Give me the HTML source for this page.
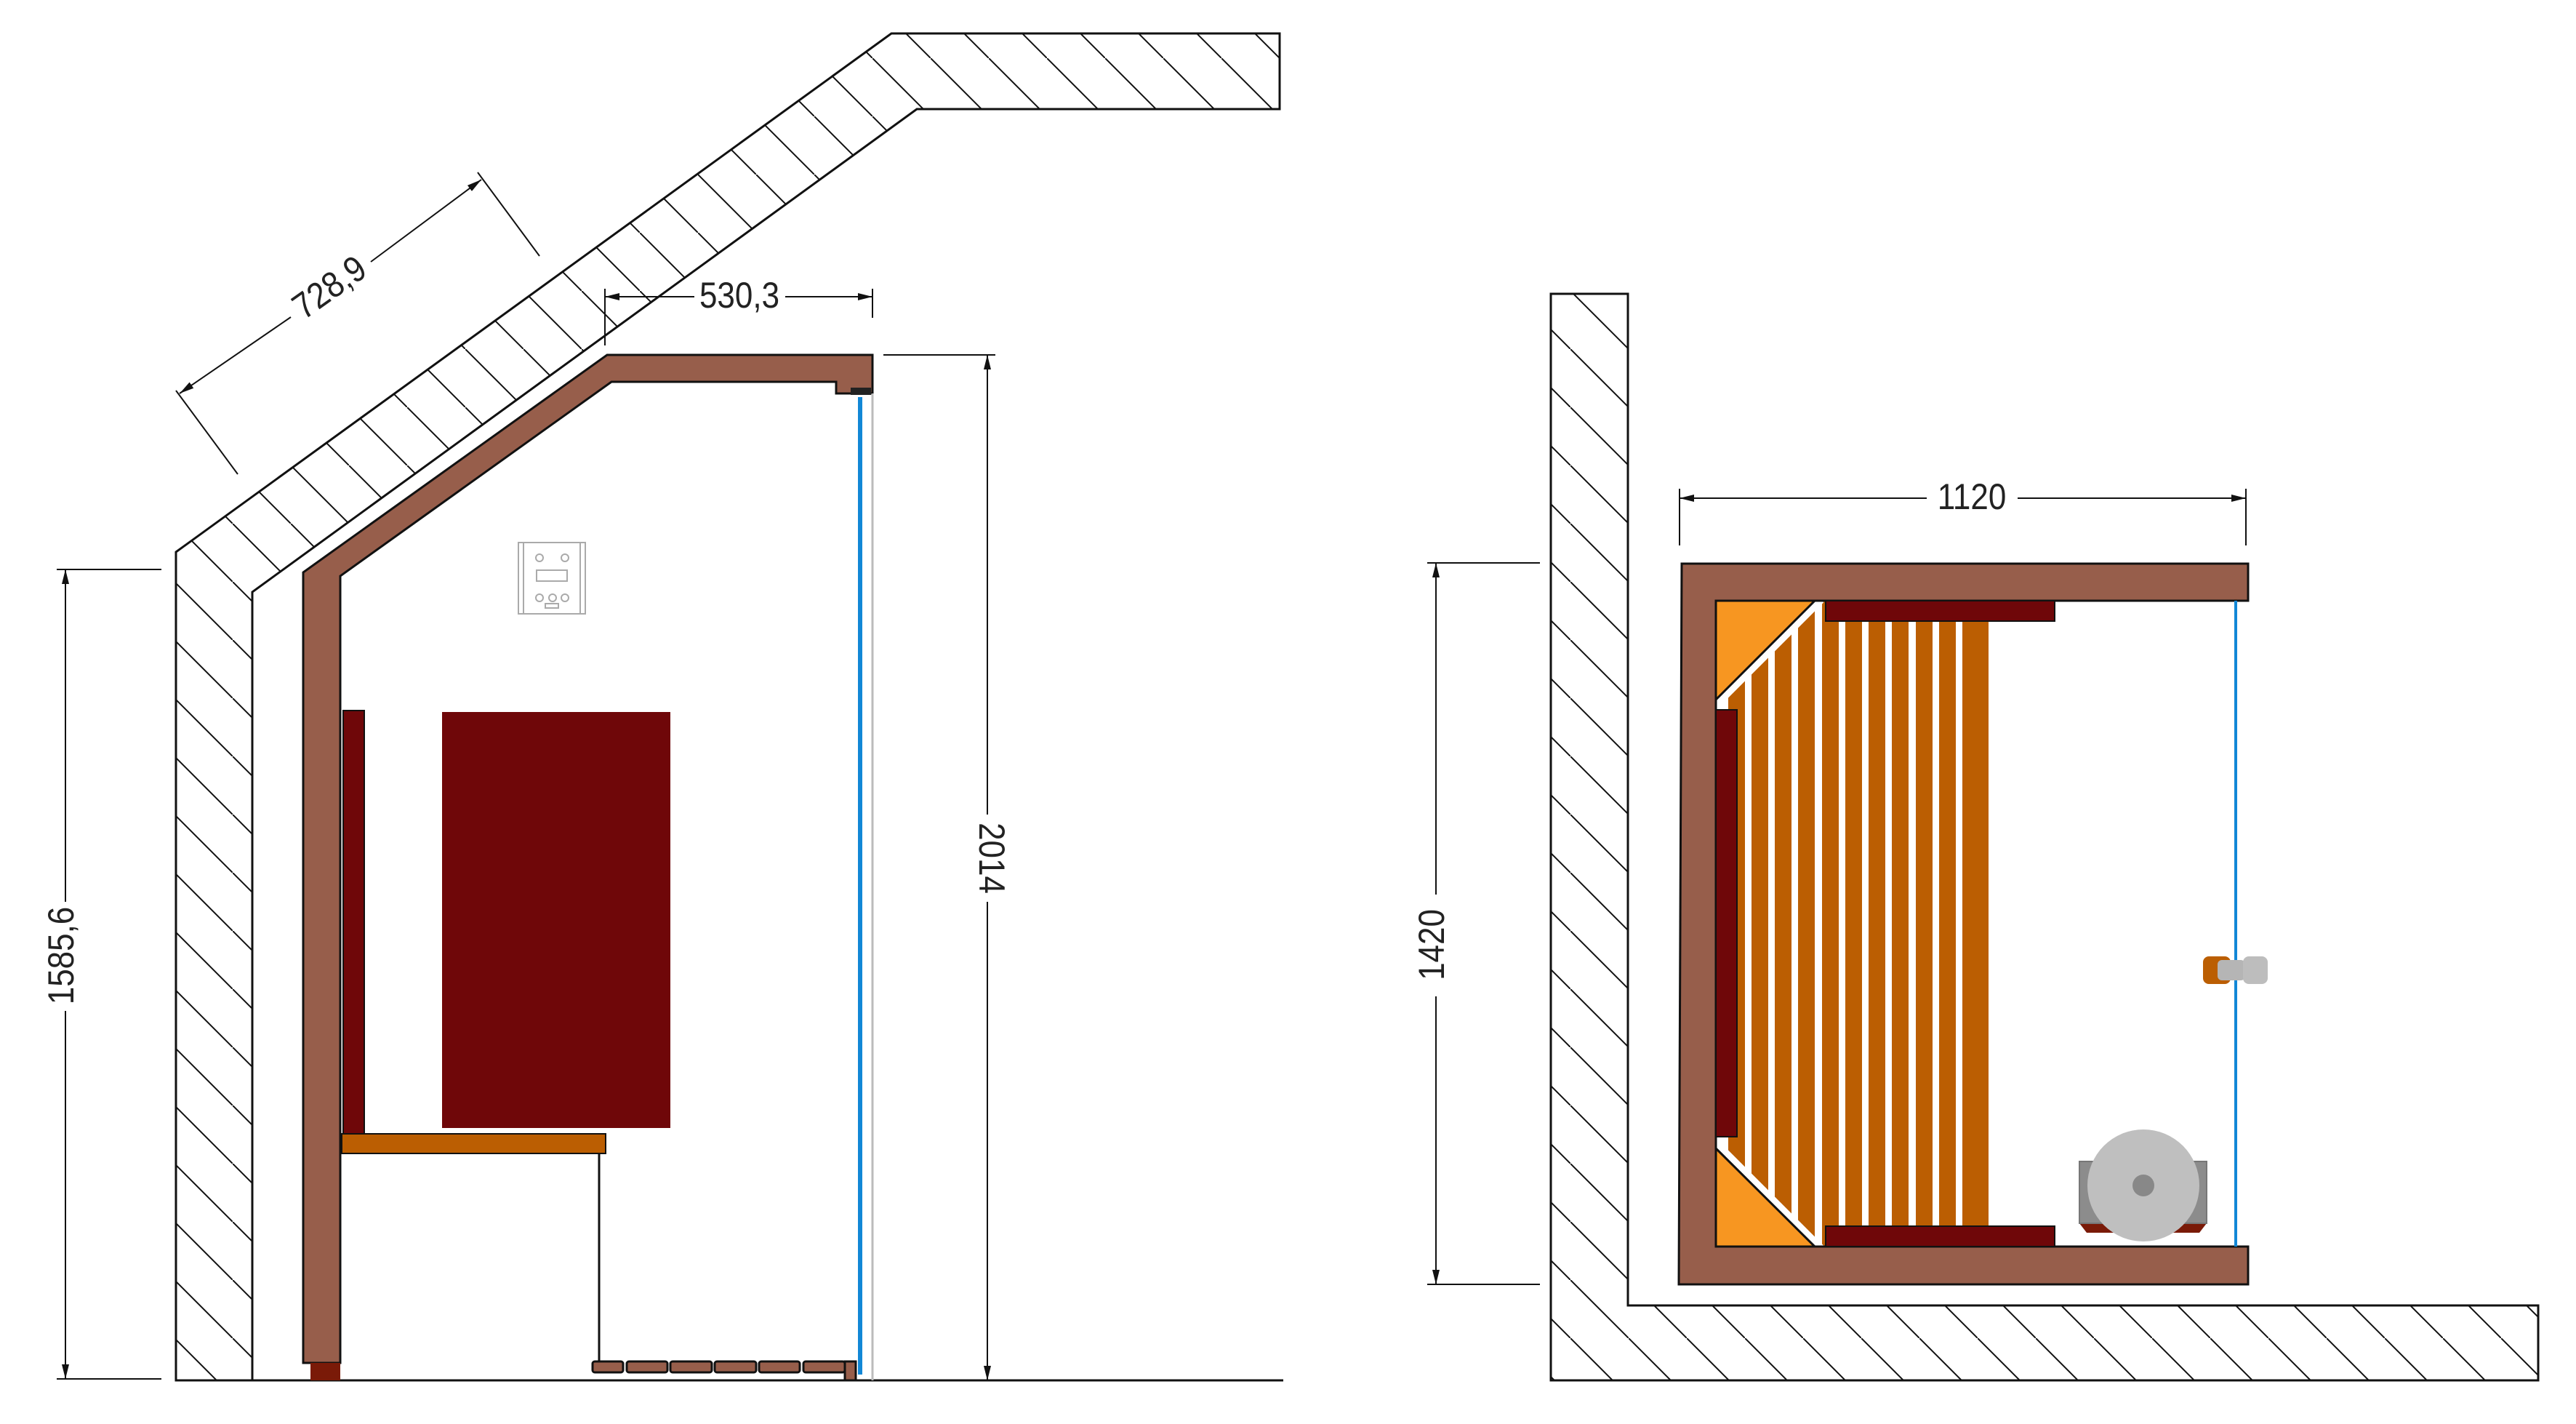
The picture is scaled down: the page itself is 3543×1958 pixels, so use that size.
<!DOCTYPE html>
<html><head><meta charset="utf-8"><style>
html,body{margin:0;padding:0;background:#fff;}
svg{display:block;}
text{font-family:"Liberation Sans",sans-serif;font-size:50px;fill:#222;}
</style></head><body>
<svg width="3543" height="1958" viewBox="0 0 3543 1958" xmlns="http://www.w3.org/2000/svg">
<defs>
<pattern id="h" patternUnits="userSpaceOnUse" width="80" height="80">
<line x1="-10" y1="-10" x2="90" y2="90" stroke="#111" stroke-width="2"/>
</pattern>
<marker id="a" viewBox="0 0 20 10" refX="20" refY="5" markerWidth="20" markerHeight="10" markerUnits="userSpaceOnUse" orient="auto-start-reverse">
<path d="M0,0 L20,5 L0,10 z" fill="#111"/>
</marker>
</defs>

<!-- LEFT VIEW -->
<polygon points="242,759 1226,46 1760,46 1760,150 1261,150 347,814 347,1898 242,1898" fill="url(#h)" stroke="#111" stroke-width="3"/>
<line x1="242" y1="1898" x2="1765" y2="1898" stroke="#111" stroke-width="3"/>

<polygon points="417,1874 417,787 835,488 1200,488 1200,541 1150,541 1150,525 841,525 468,792 468,1874" fill="#975e4b" stroke="#111" stroke-width="3"/>
<rect x="1170" y="533" width="28" height="10" fill="#222"/>
<rect x="427" y="1874" width="41" height="24" fill="#7a1a08"/>
<rect x="472" y="977" width="29" height="587" fill="#6f0709" stroke="#111" stroke-width="2"/>
<rect x="608" y="979" width="314" height="572" fill="#6f0709"/>
<rect x="470" y="1559" width="363" height="27" fill="#bb5e02" stroke="#111" stroke-width="2"/>
<line x1="824" y1="1586" x2="824" y2="1874" stroke="#111" stroke-width="3"/>
<g fill="#975e4b" stroke="#111" stroke-width="3">
<rect x="815" y="1872" width="42" height="15" rx="3"/>
<rect x="862" y="1872" width="56" height="15" rx="3"/>
<rect x="922" y="1872" width="57" height="15" rx="3"/>
<rect x="983" y="1872" width="57" height="15" rx="3"/>
<rect x="1044" y="1872" width="56" height="15" rx="3"/>
<rect x="1105" y="1872" width="57" height="15" rx="3"/>
<rect x="1162" y="1872" width="15" height="26"/>
</g>
<line x1="1183" y1="546" x2="1183" y2="1890" stroke="#1287d6" stroke-width="6"/>
<line x1="1200" y1="541" x2="1200" y2="1898" stroke="#bbb" stroke-width="3"/>
<g stroke="#aaa" stroke-width="2" fill="none">
<rect x="713" y="746" width="92" height="98"/>
<line x1="720" y1="746" x2="720" y2="844"/><line x1="798" y1="746" x2="798" y2="844"/>
<rect x="738" y="784" width="42" height="15"/>
<circle cx="742" cy="767" r="5"/><circle cx="777" cy="767" r="5"/>
<circle cx="742" cy="822" r="5"/><circle cx="760" cy="822" r="5"/><circle cx="777" cy="822" r="5"/>
<rect x="750" y="830" width="18" height="6"/>
</g>

<g stroke="#111" stroke-width="2" fill="none">
<line x1="242" y1="537" x2="327" y2="652"/>
<line x1="657" y1="237" x2="742" y2="352"/>
<line x1="247" y1="541" x2="400" y2="436" marker-start="url(#a)"/>
<line x1="510" y1="360" x2="662" y2="247" marker-end="url(#a)"/>
<line x1="832" y1="397" x2="832" y2="475"/>
<line x1="1200" y1="397" x2="1200" y2="437"/>
<line x1="832" y1="408" x2="955" y2="408" marker-start="url(#a)"/>
<line x1="1080" y1="408" x2="1200" y2="408" marker-end="url(#a)"/>
<line x1="1215" y1="488" x2="1369" y2="488"/>
<line x1="1358" y1="488" x2="1358" y2="1120" marker-start="url(#a)"/>
<line x1="1358" y1="1240" x2="1358" y2="1898" marker-end="url(#a)"/>
<line x1="78" y1="783" x2="222" y2="783"/>
<line x1="78" y1="1896" x2="222" y2="1896"/>
<line x1="90" y1="783" x2="90" y2="1240" marker-start="url(#a)"/>
<line x1="90" y1="1390" x2="90" y2="1896" marker-end="url(#a)"/>
</g>
<text transform="translate(455,398) rotate(-35.3) scale(0.88,1)" text-anchor="middle" dominant-baseline="middle">728,9</text>
<text transform="translate(1017,410) scale(0.88,1)" text-anchor="middle" dominant-baseline="middle">530,3</text>
<text transform="translate(1360,1180) rotate(90) scale(0.88,1)" text-anchor="middle" dominant-baseline="middle">2014</text>
<text transform="translate(88,1314) rotate(-90) scale(0.88,1)" text-anchor="middle" dominant-baseline="middle">1585,6</text>

<!-- RIGHT VIEW -->
<polygon points="2133,404 2239,404 2239,1795 3491,1795 3491,1898 2133,1898" fill="url(#h)" stroke="#111" stroke-width="3"/>
<g fill="#bb5e02">
<rect x="2377" y="826" width="23" height="888"/>
<rect x="2409" y="826" width="23" height="888"/>
<rect x="2441" y="826" width="23" height="888"/>
<rect x="2473" y="826" width="23" height="888"/>
<rect x="2506" y="826" width="23" height="888"/>
<rect x="2538" y="826" width="23" height="888"/>
<rect x="2570" y="826" width="23" height="888"/>
<rect x="2602" y="826" width="23" height="888"/>
<rect x="2635" y="826" width="23" height="888"/>
<rect x="2667" y="826" width="23" height="888"/>
<rect x="2699" y="826" width="36" height="888"/>
</g>
<line x1="2360" y1="968" x2="2504" y2="824" stroke="#fff" stroke-width="12"/>
<line x1="2360" y1="1573" x2="2504" y2="1717" stroke="#fff" stroke-width="12"/>
<polygon points="2313,775 3092,775 3092,826 2360,826 2360,1714 3092,1714 3092,1766 2309,1766" fill="#975e4b" stroke="#111" stroke-width="3"/>
<polygon points="2360,826 2496,826 2360,962" fill="#f79621" stroke="#111" stroke-width="3"/>
<polygon points="2360,1579 2496,1714 2360,1714" fill="#f79621" stroke="#111" stroke-width="3"/>
<rect x="2511" y="826" width="315" height="28" fill="#6f0709" stroke="#111" stroke-width="2"/>
<rect x="2511" y="1686" width="315" height="28" fill="#6f0709" stroke="#111" stroke-width="2"/>
<rect x="2360" y="976" width="29" height="587" fill="#6f0709" stroke="#111" stroke-width="2"/>
<line x1="3075" y1="826" x2="3075" y2="1714" stroke="#1287d6" stroke-width="4"/>
<rect x="3030" y="1315" width="38" height="38" rx="8" fill="#bb5e02"/>
<rect x="3050" y="1320" width="38" height="28" rx="6" fill="#b5b5b5"/>
<rect x="3085" y="1315" width="34" height="38" rx="8" fill="#bdbdbd"/>
<polygon points="2860,1682 3035,1682 3025,1695 2870,1695" fill="#7a1a08"/>
<rect x="2860" y="1597" width="175" height="85" fill="#8c8c8c" stroke="#777" stroke-width="2"/>
<circle cx="2948" cy="1630" r="77" fill="#bfbfbf"/>
<circle cx="2948" cy="1630" r="15" fill="#888"/>

<g stroke="#111" stroke-width="2" fill="none">
<line x1="1963" y1="774" x2="2118" y2="774"/>
<line x1="1963" y1="1766" x2="2118" y2="1766"/>
<line x1="1975" y1="774" x2="1975" y2="1230" marker-start="url(#a)"/>
<line x1="1975" y1="1370" x2="1975" y2="1766" marker-end="url(#a)"/>
<line x1="2310" y1="672" x2="2310" y2="750"/>
<line x1="3089" y1="672" x2="3089" y2="750"/>
<line x1="2310" y1="685" x2="2650" y2="685" marker-start="url(#a)"/>
<line x1="2775" y1="685" x2="3089" y2="685" marker-end="url(#a)"/>
</g>
<text transform="translate(2712,687) scale(0.88,1)" text-anchor="middle" dominant-baseline="middle">1120</text>
<text transform="translate(1973,1299) rotate(-90) scale(0.88,1)" text-anchor="middle" dominant-baseline="middle">1420</text>
</svg>
</body></html>
